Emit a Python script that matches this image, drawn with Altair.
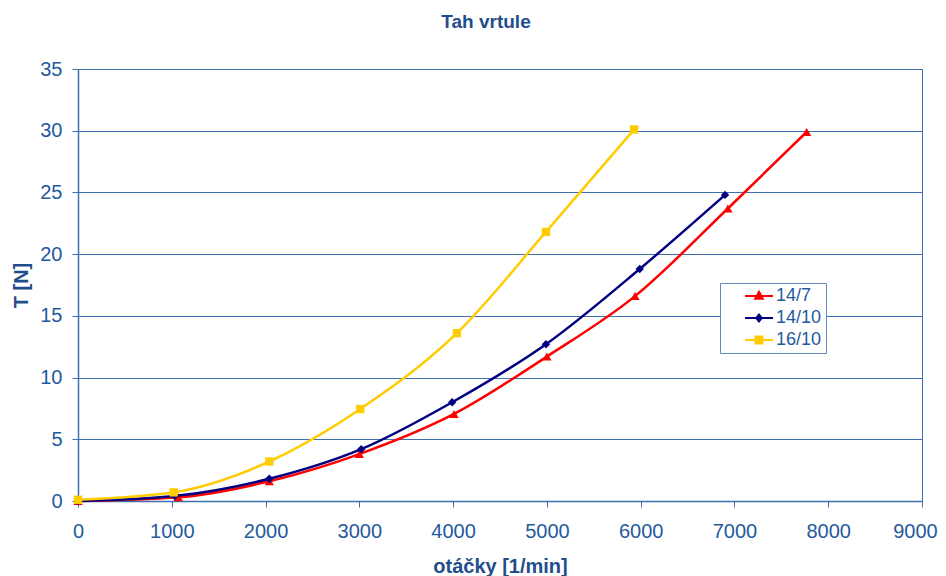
import altair as alt
import pandas as pd

series_names = ["14/7", "14/10", "16/10"]
rpm_14_7 = [0, 1070, 2040, 3000, 4010, 5000, 5940, 6930, 7770]
thrust_14_7 = [0, 0.3, 1.6, 3.8, 7.05, 11.7, 16.6, 23.7, 29.9]
rpm_14_10 = [0, 1030, 2040, 3020, 3990, 4990, 5990, 6900]
thrust_14_10 = [0, 0.4, 1.8, 4.2, 8.0, 12.7, 18.8, 24.8]
rpm_16_10 = [0, 1020, 2040, 3010, 4040, 4990, 5930]
thrust_16_10 = [0.1, 0.7, 3.2, 7.45, 13.6, 21.8, 30.1]

x_ticks = [0, 1000, 2000, 3000, 4000, 5000, 6000, 7000, 8000, 9000]
y_ticks = [0, 5, 10, 15, 20, 25, 30, 35]

colors = ["#FF0000", "#000080", "#FFCC00"]
shapes = ["triangle-up", "diamond", "square"]
marker_sizes = [85, 70, 70]
legend_paths = [
    "M-2,0L2,0M0,-0.6L0.55,0.4L-0.55,0.4Z",
    "M-2,0L2,0M0,-0.5L0.4,0L0,0.5L-0.4,0Z",
    "M-2,0L2,0M-0.5,-0.5L0.5,-0.5L0.5,0.5L-0.5,0.5Z",
]

NB = "\u00a0"
legend_labels = [s + NB * 5 for s in series_names]

rows = []
for name, lab, xs, ys in [
    ("14/7", legend_labels[0], rpm_14_7, thrust_14_7),
    ("14/10", legend_labels[1], rpm_14_10, thrust_14_10),
    ("16/10", legend_labels[2], rpm_16_10, thrust_16_10),
]:
    for a, b in zip(xs, ys):
        rows.append({"series": name, "legend_label": lab, "rpm": a, "T": b})
df = pd.DataFrame(rows)

TEXT = "#1F5A9E"
TITLE = "#1F4E8C"
FRAME = "#3E6FAF"
FONT = "Liberation Sans"

x_enc = alt.X(
    "rpm:Q",
    scale=alt.Scale(domain=[0, 9000], nice=False),
    axis=alt.Axis(
        values=x_ticks, title="otáčky [1/min]", grid=False, tickSize=6,
        labelPadding=14, titlePadding=15, format="d", labelFlush=False,
        labelOffset={"condition": {"test": "datum.value === 9000", "value": -7}, "value": 0},
    ),
)
y_enc = alt.Y(
    "T:Q",
    scale=alt.Scale(domain=[0, 35], nice=False),
    axis=alt.Axis(
        values=y_ticks, title="T [N]", grid=True, tickSize=6,
        labelPadding=10, titlePadding=8, labelFlush=False,
    ),
)
color_enc = alt.Color(
    "series:N",
    scale=alt.Scale(domain=series_names, range=colors),
    legend=None,
)

base = alt.Chart(df)
layers = []
for name, shp, sz in zip(series_names, shapes, marker_sizes):
    sub = base.transform_filter(alt.datum.series == name)
    layers.append(
        sub.mark_line(interpolate="monotone", strokeWidth=2.5).encode(
            x=x_enc, y=y_enc, color=color_enc
        )
    )
    layers.append(
        sub.mark_point(shape=shp, filled=True, size=sz, opacity=1).encode(
            x=x_enc, y=y_enc, color=color_enc
        )
    )

leg = alt.Legend(
    title=None,
    orient="none", legendX=642, legendY=214,
    labelFont=FONT, labelFontSize=18, labelColor=TEXT,
    strokeColor="#5F8BC4", fillColor="white", padding=4,
    symbolSize=196, symbolStrokeWidth=2, symbolOpacity=1,
    symbolFillColor="black", symbolStrokeColor="black",
    symbolOffset=26, labelOffset=8, rowPadding=4,
)
legend_layer = base.mark_point(
    filled=True, opacity=1, strokeWidth=2
).encode(
    x=x_enc,
    y=y_enc,
    size=alt.value(0),
    fill=alt.Fill("legend_label:N", scale=alt.Scale(domain=legend_labels, range=colors), legend=leg),
    stroke=alt.Stroke("legend_label:N", scale=alt.Scale(domain=legend_labels, range=colors), legend=leg),
    shape=alt.Shape("legend_label:N", scale=alt.Scale(domain=legend_labels, range=legend_paths), legend=leg),
)
layers.append(legend_layer)

chart = alt.layer(*layers).properties(
    width=844,
    height=432,
    autosize=alt.AutoSizeParams(type="none"),
    padding={"left": 70, "top": 61, "right": 16, "bottom": 84},
    title=alt.TitleParams(
        "Tah vrtule", fontSize=19, fontWeight="bold", color=TITLE, font=FONT,
        anchor="middle", frame="group", dx=-14, offset=12, baseline="alphabetic",
    ),
).configure_view(
    stroke=FRAME, strokeWidth=1
).configure_axis(
    labelFont=FONT, labelFontSize=20, labelColor=TEXT,
    titleFont=FONT, titleFontSize=20, titleFontWeight="bold", titleColor=TITLE,
    domainColor=FRAME, tickColor=FRAME, gridColor=FRAME, gridWidth=1,
    domainWidth=1.5,
)

chart.save("out.html", embed_options={"renderer": "svg", "actions": False})
